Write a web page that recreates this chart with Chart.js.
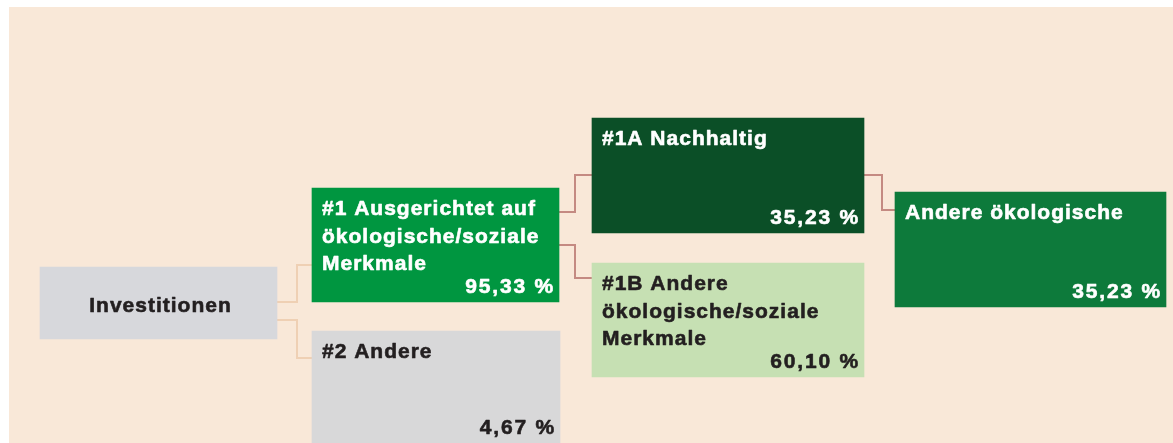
<!DOCTYPE html>
<html>
<head>
<meta charset="utf-8">
<script src="https://cdn.jsdelivr.net/npm/chart.js@4"></script>
<style>
  html, body { margin: 0; padding: 0; background: #ffffff; }
  #wrap { position: relative; width: 1173px; height: 443px; overflow: hidden; }
  #paper { position: absolute; left: 9px; top: 7px; right: 0; bottom: 0; background: #f9e8d8; }
  #chart { position: absolute; left: 0; top: 0; }
</style>
</head>
<body>
<div id="wrap">
  <div id="paper"></div>
  <canvas id="chart" width="1173" height="443"></canvas>
</div>
<script>
// box titles and shares (percent)
const boxLabels = [
  ["Investitionen"],
  ["#1 Ausgerichtet auf", "ökologische/soziale", "Merkmale"],
  ["#2 Andere"],
  ["#1A Nachhaltig"],
  ["#1B Andere", "ökologische/soziale", "Merkmale"],
  ["Andere ökologische"],
];
const shares = [null, 95.33, 4.67, 35.23, 60.1, 35.23];

// diagram layout (canvas units)
const boxLeft = [40, 312, 312, 592, 592, 895];
const boxRight = [277, 559, 560, 864, 864, 1166];
const boxTop = [267, 188, 331, 118, 263, 192];
const boxBottom = [339, 302, 446, 233, 377, 307];
// parent, child, parent anchor y, child anchor y, elbow x
const links = [
  [0, 1, 302, 265, 297],
  [0, 2, 320, 358, 297],
  [1, 3, 212, 175, 575],
  [1, 4, 245, 278, 575],
  [3, 5, 175, 210, 882],
];

const boxColors = ["#d7d8dc", "#009640", "#d8d8d9", "#0b4f27", "#c6e0b3", "#0d7a3b"];
const textColors = ["#231f20", "#ffffff", "#231f20", "#ffffff", "#231f20", "#ffffff"];
const linkColors = ["#efd0b4", "#efd0b4", "#c48a82", "#c48a82", "#c48a82"];

const fmt = (v) => v.toFixed(2).replace(".", ",") + " %";

const datasets = boxLabels.map((lab, i) => ({
  label: lab.join(" "),
  data: [{ x: (boxLeft[i] + boxRight[i]) / 2, y: [boxTop[i], boxBottom[i]] }],
  backgroundColor: boxColors[i],
  borderWidth: 0,
  barThickness: boxRight[i] - boxLeft[i],
  grouped: false,
}));

const diagramPlugin = {
  id: "diagram",
  beforeDatasetsDraw(chart) {
    const ctx = chart.ctx;
    const xs = chart.scales.x;
    const ys = chart.scales.y;
    ctx.save();
    ctx.lineWidth = 2;
    links.forEach(([p, c, py, cy, ex], k) => {
      ctx.strokeStyle = linkColors[k];
      ctx.beginPath();
      ctx.moveTo(xs.getPixelForValue(boxRight[p]), ys.getPixelForValue(py));
      ctx.lineTo(xs.getPixelForValue(ex), ys.getPixelForValue(py));
      ctx.lineTo(xs.getPixelForValue(ex), ys.getPixelForValue(cy));
      ctx.lineTo(xs.getPixelForValue(boxLeft[c]), ys.getPixelForValue(cy));
      ctx.stroke();
    });
    ctx.restore();
  },
  afterDatasetsDraw(chart) {
    const ctx = chart.ctx;
    ctx.save();
    ctx.font = "bold 21px 'Liberation Sans', Arial, sans-serif";
    ctx.textBaseline = "alphabetic";
    ctx.lineWidth = 0.6;
    ctx.lineJoin = "round";
    const put = (t, x, y) => {
      ctx.fillText(t, x, y);
      ctx.strokeText(t, x, y);
    };
    boxLabels.forEach((lines, i) => {
      const bar = chart.getDatasetMeta(i).data[0];
      const left = bar.x - bar.width / 2;
      const right = bar.x + bar.width / 2;
      const top = Math.min(bar.y, bar.base);
      const bottom = Math.max(bar.y, bar.base);
      ctx.fillStyle = textColors[i];
      ctx.strokeStyle = textColors[i];
      ctx.letterSpacing = "1px";
      if (shares[i] === null) {
        ctx.textAlign = "center";
        put(lines[0], (left + right) / 2 + 2, (top + bottom) / 2 + 9);
        return;
      }
      ctx.textAlign = "left";
      lines.forEach((t, j) => put(t, left + 10, top + 27 + j * 27.5));
      ctx.letterSpacing = "1.8px";
      ctx.textAlign = "right";
      put(fmt(shares[i]), right - 4, Math.min(bottom, 443) - 9);
    });
    ctx.restore();
  },
};

new Chart(document.querySelector("#chart"), {
  type: "bar",
  data: { datasets: datasets },
  options: {
    responsive: false,
    animation: false,
    layout: { padding: 0 },
    plugins: { legend: { display: false }, tooltip: { enabled: false } },
    scales: {
      x: { type: "linear", min: 0, max: 1173, offset: false, display: false },
      y: { type: "linear", min: 0, max: 443, reverse: true, display: false },
    },
  },
  plugins: [diagramPlugin],
});
</script>
</body>
</html>
